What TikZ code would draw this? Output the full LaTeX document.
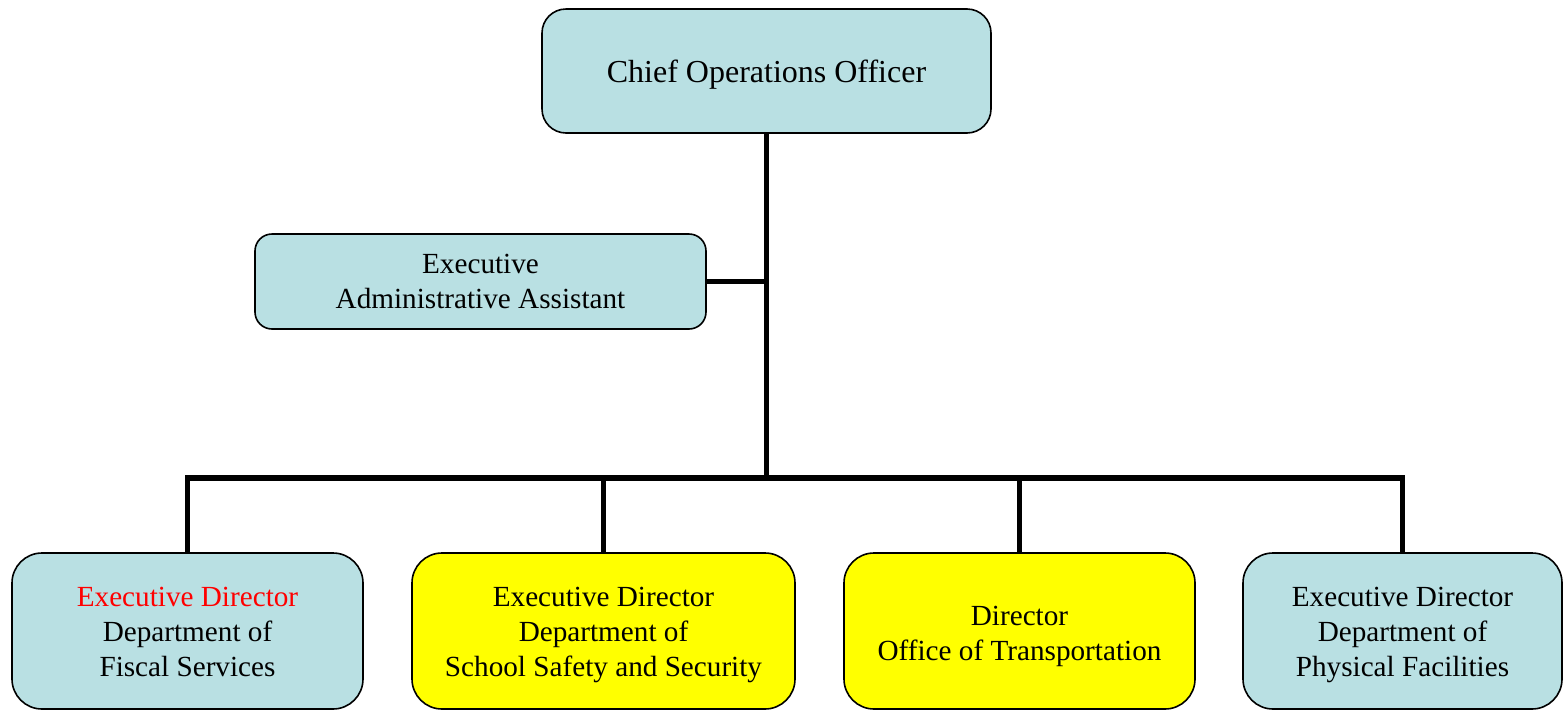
\documentclass[tikz,border=0pt]{standalone}
\usepackage{fontspec}
\setmainfont{Liberation Serif}
\definecolor{teal}{HTML}{B9E0E3}
\definecolor{yel}{HTML}{FFFF00}
\definecolor{redtxt}{HTML}{FF0000}
\newcommand{\txt}[2]{\raisebox{-#1pt}[\height][\depth]{\begin{tabular}{@{}c@{}}#2\end{tabular}}}
\begin{document}
\begin{tikzpicture}[x=1pt,y=-1pt,
  box/.style={draw=black,line width=1.6pt,rounded corners=24pt,align=center,inner sep=0pt,
    font=\fontsize{29.2}{35}\selectfont},
  bluebox/.style={box,fill=teal},
  yelbox/.style={box,fill=yel},
  link/.style={line width=5.5pt,line join=miter}]
\useasboundingbox (0,0) rectangle (1564,710);
\node[bluebox,minimum width=449pt,minimum height=124pt,font=\fontsize{32}{36}\selectfont] (coo) at (766.5,71) {\txt{4}{Chief Operations Officer}};
\node[bluebox,minimum width=451pt,minimum height=95pt,rounded corners=17pt] (eaa) at (480.5,281.5) {\txt{2.5}{Executive\\Administrative Assistant}};
\node[bluebox,minimum width=351pt,minimum height=156pt,rounded corners=30pt] (fis) at (187.5,631) {\txt{3}{\textcolor{redtxt}{Executive Director}\\Department of\\Fiscal Services}};
\node[yelbox,minimum width=383pt,minimum height=156pt,rounded corners=30pt] (sss) at (603.5,631) {\txt{3}{Executive Director\\Department of\\School Safety and Security}};
\node[yelbox,minimum width=351pt,minimum height=156pt,rounded corners=30pt] (tra) at (1019.5,631) {\txt{4.5}{Director\\Office of Transportation}};
\node[bluebox,minimum width=319pt,minimum height=156pt,rounded corners=30pt] (phy) at (1402.5,631) {\txt{3}{Executive Director\\Department of\\Physical Facilities}};
\coordinate (bus) at (766.5,478);
\coordinate (mid) at (766.5,281.5);
\draw[link] (coo.south) -- (bus);
\draw[link] (eaa.east) -- (mid);
\draw[link] (fis.north) |- (bus);
\draw[link] (phy.north) |- (bus);
\draw[link] (sss.north) -- (sss.north |- bus);
\draw[link] (tra.north) -- (tra.north |- bus);
\end{tikzpicture}
\end{document}
